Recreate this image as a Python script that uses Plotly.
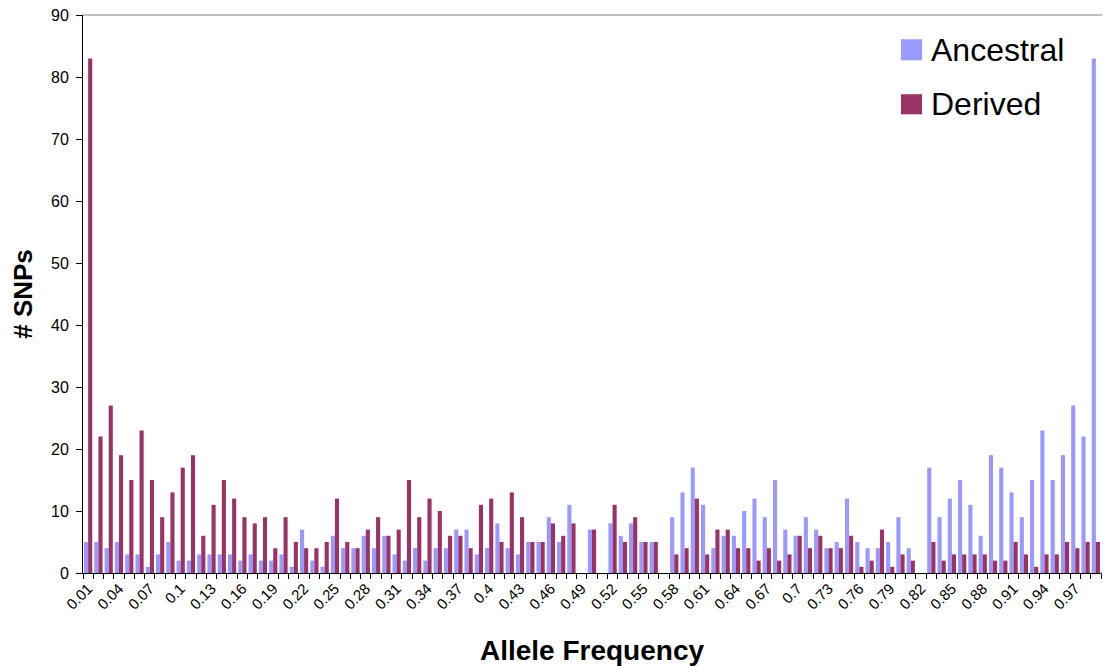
import plotly.graph_objects as go

# Allele-frequency categories 0.01 .. 0.99
freqs = [round(k / 100, 2) for k in range(1, 100)]
freq_labels = [f"{f:g}" for f in freqs]
tick_freqs = freqs[::3]
tick_labels = freq_labels[::3]
y_ticks = [0, 10, 20, 30, 40, 50, 60, 70, 80, 90]

ancestral = [
    5, 5, 4, 5, 3, 3, 1, 3, 5, 2,
    2, 3, 3, 3, 3, 2, 3, 2, 2, 3,
    1, 7, 2, 1, 6, 4, 4, 6, 4, 6,
    3, 2, 4, 2, 4, 4, 7, 7, 3, 4,
    8, 4, 3, 5, 5, 9, 5, 11, 0, 7,
    0, 8, 6, 8, 5, 5, 0, 9, 13, 17,
    11, 4, 6, 6, 10, 12, 9, 15, 7, 6,
    9, 7, 4, 5, 12, 5, 4, 4, 5, 9,
    4, 0, 17, 9, 12, 15, 11, 6, 19, 17,
    13, 9, 15, 23, 15, 19, 27, 22, 83,
]
derived = [
    83, 22, 27, 19, 15, 23, 15, 9, 13, 17,
    19, 6, 11, 15, 12, 9, 8, 9, 4, 9,
    5, 4, 4, 5, 12, 5, 4, 7, 9, 6,
    7, 15, 9, 12, 10, 6, 6, 4, 11, 12,
    5, 13, 9, 5, 5, 8, 6, 8, 0, 7,
    0, 11, 5, 9, 5, 5, 0, 3, 4, 12,
    3, 7, 7, 4, 4, 2, 4, 2, 3, 6,
    4, 6, 4, 4, 6, 1, 2, 7, 1, 3,
    2, 0, 5, 2, 3, 3, 3, 3, 2, 2,
    5, 3, 1, 3, 3, 5, 4, 5, 5,
]

series_names = ["Ancestral", "Derived"]
series_colors = ["#9999FF", "#993366"]

FONT = "Liberation Sans, Arial, Helvetica, sans-serif"

fig = go.Figure()
for name, vals, col in zip(series_names, [ancestral, derived], series_colors):
    fig.add_trace(go.Bar(
        x=freqs, y=vals, name=name, marker=dict(color=col, line=dict(width=0)),
        showlegend=False,
        hovertemplate="%{x}: %{y}<extra>" + name + "</extra>",
    ))

boundaries = [round(0.005 + 0.01 * i, 3) for i in range(100)]

# page body adds an 8px offset, so the figure is sized 8px smaller
fig.update_layout(
    width=1102, height=658,
    margin=dict(l=75, r=9, t=7, b=93, autoexpand=False),
    paper_bgcolor="white", plot_bgcolor="white",
    barmode="group", bargap=0.2, bargroupgap=0.0,
    font=dict(family=FONT, color="black", size=15),
    xaxis=dict(
        type="linear", range=[0.005, 0.995], automargin=False,
        tickmode="array", tickvals=tick_freqs, ticktext=tick_labels,
        tickangle=-45, ticks="", tickfont=dict(size=15),
        ticklabeloverflow="allow",
        showgrid=False, zeroline=False,
        showline=True, linecolor="black", linewidth=1,
        minor=dict(tickmode="array", tickvals=boundaries, ticks="outside",
                   ticklen=5, tickcolor="black", tickwidth=1, showgrid=False),
        title=dict(text="<b>Allele Frequency</b>", font=dict(size=28), standoff=28),
    ),
    yaxis=dict(
        range=[0, 90], automargin=False,
        tickmode="array", tickvals=y_ticks, ticktext=[str(v) for v in y_ticks],
        ticks="outside", ticklen=6, tickcolor="black",
        tickfont=dict(size=16), ticklabelstandoff=4,
        ticklabeloverflow="allow",
        showgrid=False, zeroline=False,
        showline=True, linecolor="black", linewidth=1,
        title=dict(text="<b># SNPs</b>", font=dict(size=26), standoff=17),
    ),
)

# top border line of plot area
fig.add_shape(type="line", xref="paper", yref="paper", x0=0, x1=1.004, y0=1, y1=1,
              line=dict(color="#808080", width=1))
fig.add_shape(type="line", xref="paper", yref="paper", x0=1, x1=1.004, y0=0, y1=0,
              line=dict(color="black", width=1))

# manual legend (large square swatches)
leg_items = [(0.9565, 0.9188, 0.9376), (0.858, 0.822, 0.840)]
for (y1, y0, yc), name, col in zip(leg_items, series_names, series_colors):
    fig.add_shape(type="rect", xref="paper", yref="paper",
                  x0=0.8035, x1=0.8242, y0=y0, y1=y1,
                  fillcolor=col, line=dict(width=0))
    fig.add_annotation(xref="paper", yref="paper", x=0.831, y=yc,
                       xanchor="left", yanchor="middle", showarrow=False,
                       text=name, font=dict(size=32, family=FONT, color="black"))

fig.write_html("out.html")
